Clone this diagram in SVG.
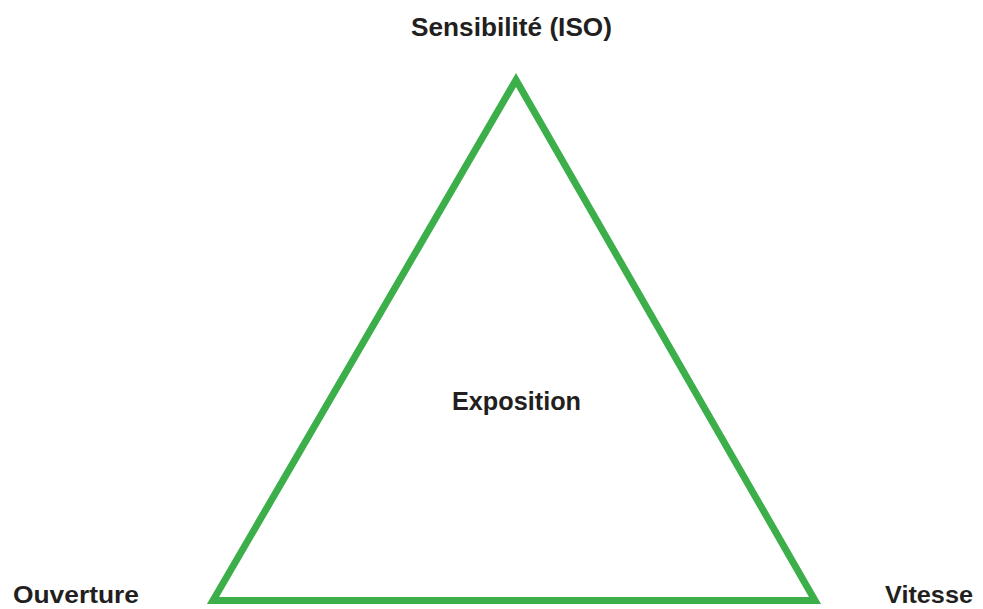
<svg xmlns="http://www.w3.org/2000/svg" width="983" height="609" viewBox="0 0 983 609">
  <style>
    .lbl { font-family: "Liberation Sans", Arial, sans-serif; font-weight: bold; fill: #231f20; text-anchor: middle; }
    .tri { fill: none; stroke: #3daf4a; stroke-width: 7; stroke-linejoin: miter; stroke-miterlimit: 10; }
  </style>
  <rect width="983" height="609" fill="#ffffff"/>
  <g id="connectors">
    <polygon class="tri" points="516,80 213,600.5 815,600.5"/>
  </g>
  <g id="node-iso">
    <text class="lbl" x="511.5" y="36" font-size="26" textLength="201" lengthAdjust="spacingAndGlyphs">Sensibilité (ISO)</text>
  </g>
  <g id="node-exposition">
    <text class="lbl" x="516.5" y="410" font-size="25" textLength="129" lengthAdjust="spacingAndGlyphs">Exposition</text>
  </g>
  <g id="node-ouverture">
    <text class="lbl" x="76" y="603" font-size="24.5" textLength="126" lengthAdjust="spacingAndGlyphs">Ouverture</text>
  </g>
  <g id="node-vitesse">
    <text class="lbl" x="929" y="603" font-size="24.5" textLength="88" lengthAdjust="spacingAndGlyphs">Vitesse</text>
  </g>
</svg>
